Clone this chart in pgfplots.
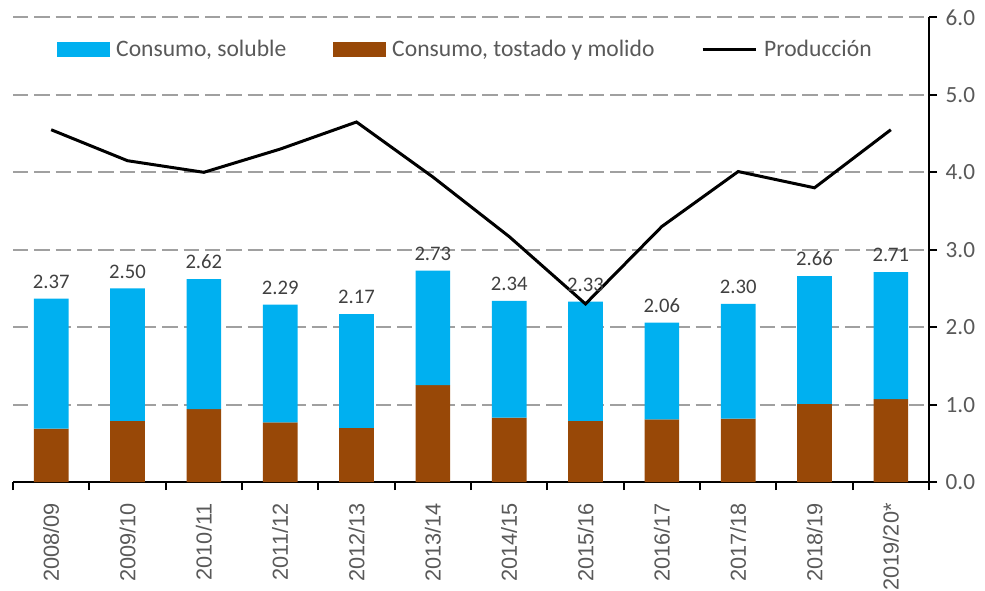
\documentclass[border=0pt]{standalone}
\usepackage{pgfplots}
\usepackage{pgfplotstable}
\pgfplotsset{compat=1.18}
\usepackage{fontspec}
\setmainfont{Carlito}
\newfontfamily\arialf{Liberation Sans}
\definecolor{cblue}{HTML}{00B0F0}
\definecolor{cbrown}{HTML}{984807}
\definecolor{tgray}{HTML}{595959}
\definecolor{lgray}{HTML}{404040}
\definecolor{ggray}{HTML}{A0A0A0}
\pgfplotstableread{
x brown sol total prod
0 0.69 1.68 2.37 4.55
1 0.79 1.71 2.50 4.15
2 0.94 1.68 2.62 4.00
3 0.77 1.52 2.29 4.30
4 0.70 1.47 2.17 4.65
5 1.25 1.48 2.73 3.94
6 0.83 1.51 2.34 3.17
7 0.79 1.54 2.33 2.30
8 0.81 1.25 2.06 3.30
9 0.82 1.48 2.30 4.01
10 1.01 1.65 2.66 3.80
11 1.07 1.64 2.71 4.55
}\datatable
\begin{document}
\begin{tikzpicture}
\begin{axis}[
  scale only axis,
  width=687pt, height=348.4pt,
  xmin=-0.5, xmax=11.5, ymin=0, ymax=6,
  axis x line*=bottom, axis y line*=right,
  axis line style={line width=1.5pt, black},
  xtick={0,...,11},
  xticklabels={2008/09,2009/10,2010/11,2011/12,2012/13,2013/14,2014/15,2015/16,2016/17,2017/18,2018/19,2019/20*},
  minor xtick={-0.5,0.5,...,11.5},
  major x tick style={draw=none},
  minor x tick style={line width=1.5pt, black},
  y tick style={line width=1.5pt, black},
  tick align=outside,
  major tick length=6pt, minor tick length=6pt,
  ytick={0,1,...,6},
  yticklabel style={/pgf/number format/.cd, fixed, fixed zerofill, precision=1, /tikz/.cd, font=\fontsize{17.4}{20}\selectfont, text=tgray, anchor=west, xshift=3pt},
  /pgf/number format/assume math mode=true,
  xticklabel style={rotate=90, anchor=east, font=\arialf\fontsize{16.3}{19}\selectfont, text=tgray, xshift=-6.5pt},
  ymajorgrids,
  grid style={ggray, line width=1.5pt, dash pattern=on 11.5pt off 4.5pt},
  legend style={at={(axis description cs:0.048,0.932)}, anchor=west, draw=none, fill=none, inner sep=0pt, outer sep=0pt,
    legend columns=3, font=\fontsize{17.7}{20}\selectfont, text=tgray,
    /tikz/every odd column/.append style={column sep=3pt},
    /tikz/every even column/.append style={column sep=33pt}},
  legend cell align=left,
]
\addlegendimage{legend image code/.code={\fill[cblue] (0pt,-5.25pt) rectangle (39pt,5.25pt);}}
\addlegendentry{Consumo, soluble}
\addlegendimage{legend image code/.code={\fill[cbrown] (0pt,-5.25pt) rectangle (39pt,5.25pt);}}
\addlegendentry{Consumo, tostado y molido}
\addlegendimage{legend image code/.code={\draw[black, line width=2.25pt] (0pt,0pt) -- (40pt,0pt);}}
\addlegendentry{Producción}
\addplot[ybar stacked, bar width=26pt, fill=cbrown, draw=none, forget plot] table[x=x, y=brown] {\datatable};
\addplot[ybar stacked, bar width=26pt, fill=cblue, draw=none, forget plot] table[x=x, y=sol] {\datatable};
\addplot[draw=none, mark=none, forget plot,
  nodes near coords, point meta=y,
  nodes near coords style={/pgf/number format/.cd, fixed, fixed zerofill, precision=2, /tikz/.cd, font=\fontsize{15.5}{18}\selectfont, text=lgray, inner sep=0pt, anchor=south, yshift=7.5pt}]
  table[x=x, y=total] {\datatable};
\addplot[black, line width=2.25pt, mark=none, forget plot] table[x=x, y=prod] {\datatable};
\end{axis}
\pgfresetboundingbox
\path[use as bounding box] (-9.75pt,-81pt) rectangle (729pt,361.5pt);
\end{tikzpicture}
\end{document}
